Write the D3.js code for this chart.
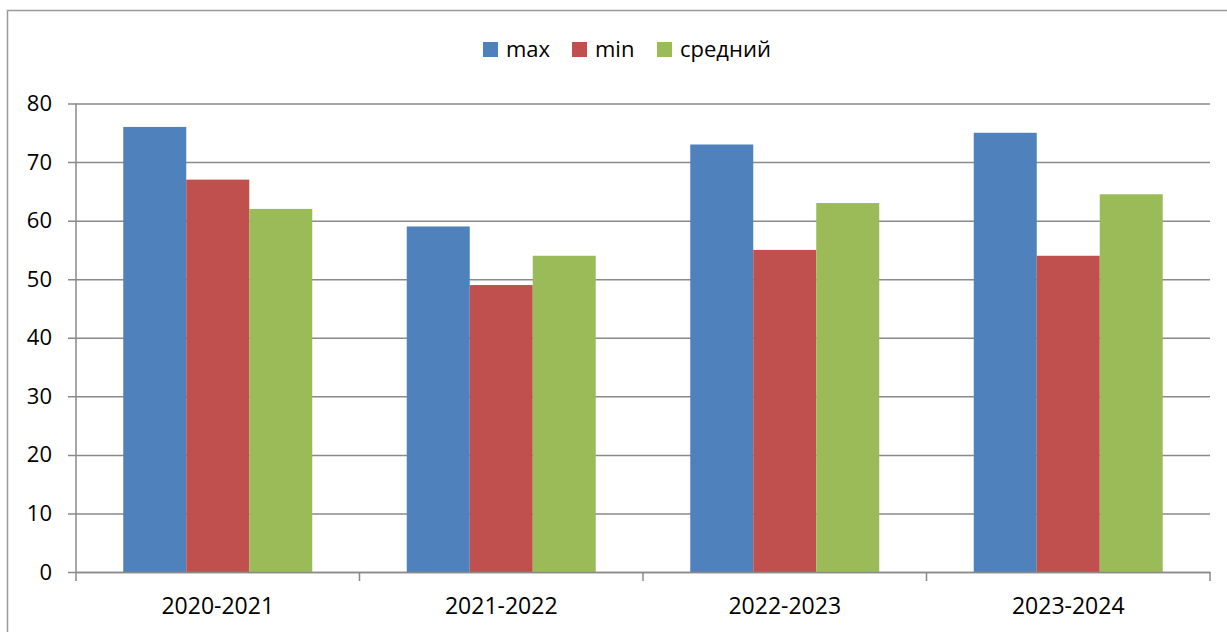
<!DOCTYPE html>
<html><head><meta charset="utf-8">
<script src="https://cdn.jsdelivr.net/npm/d3@7"></script>
<style>html,body{margin:0;padding:0;background:#fff;overflow:hidden}svg{display:block}text{font-family:"Open Sans",sans-serif;fill:#000}</style>
</head><body>
<script>
const categories = ["2020-2021", "2021-2022", "2022-2023", "2023-2024"];
const seriesNames = ["max", "min", "средний"];
const maxValues = [76, 59, 73, 75];
const minValues = [67, 49, 55, 54];
const avgValues = [62, 54, 63, 64.5];
const yTicks = [0, 10, 20, 30, 40, 50, 60, 70, 80];
const colors = ["#4F81BD", "#C0504D", "#9BBB59"];

const series = [maxValues, minValues, avgValues];
const W = 1227, H = 632;
const svg = d3.select("body").append("svg").attr("width", W).attr("height", H);

// outer chart border
svg.append("rect").attr("x", 7.5).attr("y", 10.5).attr("width", 1260).attr("height", 700)
  .attr("fill", "none").attr("stroke", "#9a9a9a").attr("stroke-width", 1.5);

const x0 = 76, x1 = 1210, yTop = 103.5, yBot = 572;
const x = d3.scaleBand().domain(categories).range([x0, x1]).paddingInner(0).paddingOuter(0);
const y = d3.scaleLinear().domain([0, 80]).range([yBot, yTop]);
const inner = d3.scaleBand().domain(d3.range(3)).range([0, x.bandwidth()]).paddingOuter(0.75).paddingInner(0);

// gridlines + y axis
const yAxis = d3.axisLeft(y).tickValues(yTicks).tickSize(x1 - x0 + 8).tickPadding(16).tickFormat(d3.format("d"));
const gy = svg.append("g").attr("transform", `translate(${x1},0)`).call(yAxis);
gy.select(".domain").remove();
gy.selectAll(".tick line").attr("stroke", "#8a8a8a").attr("stroke-width", 1.5);
gy.selectAll(".tick text").attr("font-size", 22).attr("font-family", "Open Sans").attr("fill", "#000");

// bars
categories.forEach((c, i) => {
  series.forEach((s, j) => {
    svg.append("rect")
      .attr("x", x(c) + inner(j))
      .attr("y", y(s[i]))
      .attr("width", inner.bandwidth())
      .attr("height", y(0) - y(s[i]))
      .attr("fill", colors[j]);
  });
});

// y axis line
svg.append("line").attr("x1", x0).attr("x2", x0).attr("y1", yTop).attr("y2", yBot)
  .attr("stroke", "#8a8a8a").attr("stroke-width", 1.5);

// x axis
const xAxis = d3.axisBottom(x).tickSize(0).tickPadding(26);
const gx = svg.append("g").attr("transform", `translate(0,${yBot})`).call(xAxis);
gx.select(".domain").attr("stroke", "#8a8a8a").attr("stroke-width", 1.5);
gx.selectAll(".tick text").attr("font-size", 23).attr("font-family", "Open Sans").attr("fill", "#000");
// category separators ticks
const bounds = categories.map(c => x(c)).concat([x1]);
svg.selectAll(".ctick").data(bounds).enter().append("line")
  .attr("x1", d => d).attr("x2", d => d).attr("y1", yBot).attr("y2", yBot + 9)
  .attr("stroke", "#8a8a8a").attr("stroke-width", 1.5);

// legend
const legendX = [483, 572, 657];
const lg = svg.append("g");
seriesNames.forEach((n, j) => {
  lg.append("rect").attr("x", legendX[j]).attr("y", 42).attr("width", 15).attr("height", 15).attr("fill", colors[j]);
  lg.append("text").attr("x", legendX[j] + 23).attr("y", 57).attr("font-size", 22).text(n);
});
</script>
</body></html>
